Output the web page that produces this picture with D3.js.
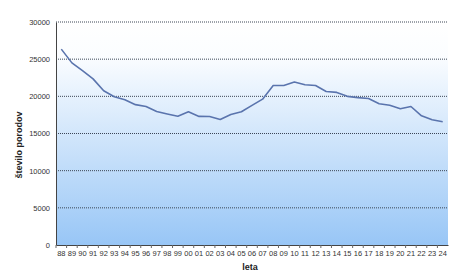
<!DOCTYPE html>
<html>
<head>
<meta charset="utf-8">
<script src="https://cdn.jsdelivr.net/npm/d3@7"></script>
<style>
  body { margin: 0; background: #fff; }
  svg { display: block; font-family: Arial, "Liberation Sans", sans-serif; }
</style>
</head>
<body>
<svg id="chart" width="474" height="279"></svg>
<script>
const years = ['88','89','90','91','92','93','94','95','96','97','98','99','00','01','02','03','04',
  '05','06','07','08','09','10','11','12','13','14','15','16','17','18','19','20','21','22','23','24']
const births = [26350, 24500, 23450, 22350, 20750, 19950, 19550, 18880, 18630, 17950, 17630, 17320, 17920,
  17300, 17290, 16880, 17550, 17920, 18780, 19620, 21450, 21450, 21920, 21560, 21450, 20660, 20530,
  20000, 19830, 19700, 19000, 18810, 18340, 18630, 17380, 16840, 16590]
const yTicks = [0, 5000, 10000, 15000, 20000, 25000, 30000]

const svg = d3.select('#chart')
const margin = { left: 56, right: 26, top: 22, bottom: 34 }
const width = 474 - margin.left - margin.right
const height = 279 - margin.top - margin.bottom

// background gradient
const grad = svg.append('defs').append('linearGradient')
  .attr('id', 'bg').attr('x1', 0).attr('y1', 0).attr('x2', 0).attr('y2', 1)
grad.append('stop').attr('offset', '0%').attr('stop-color', '#ffffff')
grad.append('stop').attr('offset', '15%').attr('stop-color', '#fbfdff')
grad.append('stop').attr('offset', '100%').attr('stop-color', '#98c6f6')

const g = svg.append('g').attr('transform', `translate(${margin.left},${margin.top})`)

const x = d3.scaleBand().domain(years).range([0, width])
const y = d3.scaleLinear().domain([0, 30000]).range([height, 0])

g.append('rect').attr('width', width).attr('height', height).attr('fill', 'url(#bg)')

// gridlines
g.append('g')
  .selectAll('line')
  .data(yTicks.filter(d => d > 0))
  .join('line')
  .attr('x1', 0).attr('x2', width)
  .attr('y1', d => y(d)).attr('y2', d => y(d))
  .attr('stroke', '#3c4656').attr('stroke-width', 1)
  .attr('stroke-dasharray', '1,1')

// y axis
const yAxis = g.append('g')
  .call(d3.axisLeft(y).tickValues(yTicks).tickSize(0).tickPadding(6).tickFormat(d3.format('d')))
yAxis.select('.domain').attr('stroke', '#444')
yAxis.selectAll('text').attr('font-size', '7.5px').attr('fill', '#333')

// x axis
const xAxis = g.append('g')
  .attr('transform', `translate(0,${height})`)
  .call(d3.axisBottom(x).tickSize(0).tickPadding(6))
xAxis.select('.domain').attr('stroke', '#444')
xAxis.selectAll('text').attr('font-size', '7.5px').attr('fill', '#333')

// x tick marks between categories
g.append('g')
  .selectAll('line')
  .data(years)
  .join('line')
  .attr('x1', d => x(d)).attr('x2', d => x(d))
  .attr('y1', height).attr('y2', height + 3)
  .attr('stroke', '#666')

// line
const line = d3.line()
  .x((d, i) => x(years[i]) + x.bandwidth() / 2)
  .y(d => y(d))
g.append('path')
  .datum(births)
  .attr('d', line)
  .attr('fill', 'none')
  .attr('stroke', '#5a74ad')
  .attr('stroke-width', 1.6)
  .attr('stroke-linejoin', 'round')

// axis titles
svg.append('text')
  .attr('x', margin.left + width / 2 - 2)
  .attr('y', 270)
  .attr('text-anchor', 'middle')
  .attr('font-size', '9px').attr('font-weight', 'bold').attr('fill', '#222')
  .text('leta')

svg.append('text')
  .attr('transform', 'translate(22,145) rotate(-90)')
  .attr('text-anchor', 'middle')
  .attr('font-size', '9px').attr('font-weight', 'bold').attr('fill', '#222')
  .text('število porodov')
</script>
</body>
</html>
